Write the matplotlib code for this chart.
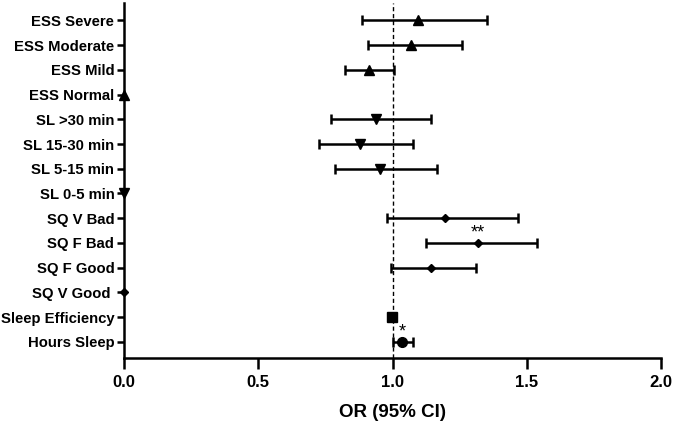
import matplotlib
matplotlib.use("Agg")
import matplotlib.pyplot as plt
import numpy as np

plt.rcParams['font.family'] = ['Liberation Sans', 'DejaVu Sans']
plt.rcParams['font.weight'] = 'bold'

labels = ["ESS Severe", "ESS Moderate", "ESS Mild", "ESS Normal",
          "SL >30 min", "SL 15-30 min", "SL 5-15 min", "SL 0-5 min",
          "SQ V Bad", "SQ F Bad", "SQ F Good", "SQ V Good ",
          "Sleep Efficiency", "Hours Sleep"]
or_vals = [1.096, 1.068, 0.912, 0.0,
           0.940, 0.880, 0.955, 0.0,
           1.197, 1.317, 1.143, 0.0,
           0.998, 1.037]
ci_low = [0.888, 0.910, 0.823, 0.0,
          0.770, 0.726, 0.786, 0.0,
          0.978, 1.126, 0.994, 0.0,
          0.996, 1.002]
ci_high = [1.351, 1.259, 1.005, 0.0,
           1.143, 1.078, 1.164, 0.0,
           1.466, 1.540, 1.312, 0.0,
           1.000, 1.076]
markers = ["^", "^", "^", "^", "v", "v", "v", "v", "D", "D", "D", "D", "s", "o"]
msizes = [6.5, 6.5, 6.5, 6.5, 6.5, 6.5, 6.5, 6.5, 4.5, 4.5, 4.5, 4.5, 6.5, 7]
signif = ["", "", "", "", "", "", "", "", "", "**", "", "", "", "*"]
xticks = [0.0, 0.5, 1.0, 1.5, 2.0]

fig = plt.figure(figsize=(6.73, 4.26), dpi=100)
ax = fig.add_axes([124/673, 1-358/426, (661-124)/673, (358-3)/426])

n = len(labels)
ypos = np.arange(n)[::-1]

ax.axvline(1.0, color='black', lw=1.0, ls=(0, (3, 2)), zorder=1)

for i in range(n):
    y = ypos[i]
    if ci_high[i] > ci_low[i] + 0.01:
        ax.errorbar(or_vals[i], y,
                    xerr=[[or_vals[i] - ci_low[i]], [ci_high[i] - or_vals[i]]],
                    fmt='none', ecolor='black', elinewidth=1.8, capsize=3.8,
                    capthick=1.8, zorder=2)
    ax.plot(or_vals[i], y, marker=markers[i], ms=msizes[i], color='black',
            ls='none', clip_on=False, zorder=3)
    if signif[i]:
        ax.text(or_vals[i], y + 0.05, signif[i], ha='center', va='bottom',
                fontsize=13, fontweight='normal')

ax.set_xlim(0, 2.0)
ax.set_ylim(-0.65, 13.7)
ax.set_xticks(xticks)
ax.set_xticklabels([f"{t:.1f}" for t in xticks], fontsize=12, fontweight='bold')
ax.set_yticks(ypos)
ax.set_yticklabels(labels, fontsize=10.75, fontweight='bold')
ax.set_xlabel("OR (95% CI)", fontsize=13.5, fontweight='bold', labelpad=10)

for s in ['top', 'right']:
    ax.spines[s].set_visible(False)
for s in ['left', 'bottom']:
    ax.spines[s].set_linewidth(1.8)
ax.tick_params(axis='y', length=5, width=1.8, pad=2)
ax.tick_params(axis='x', length=8, width=1.8, pad=4)

fig.savefig("out.png", dpi=100)
